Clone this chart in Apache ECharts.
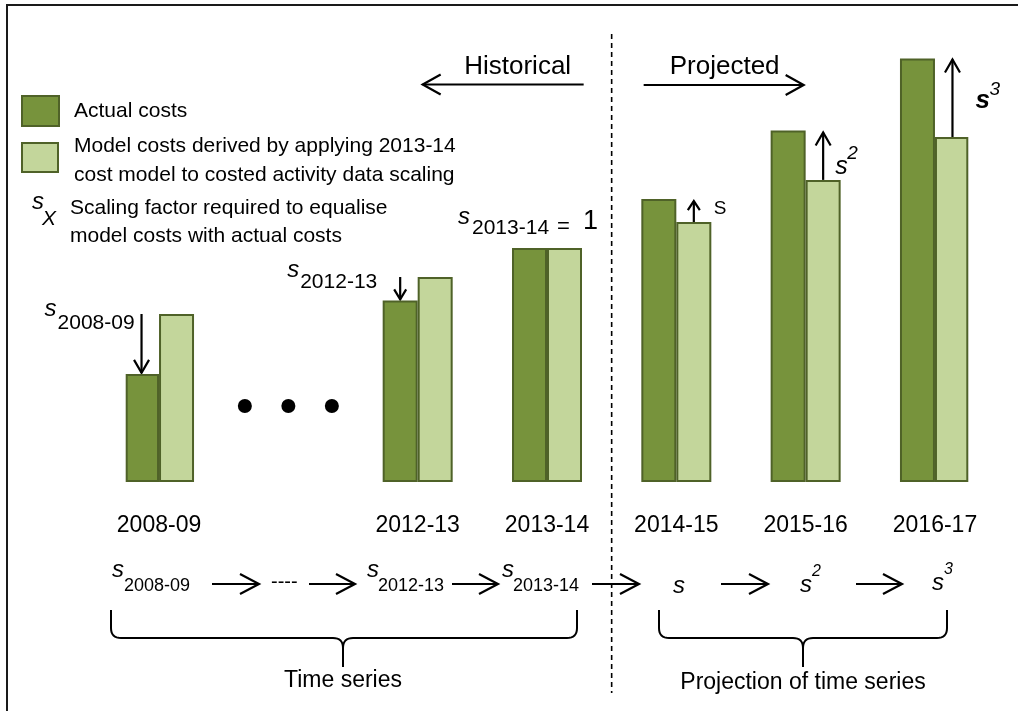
<!DOCTYPE html>
<html><head><meta charset="utf-8">
<script src="https://cdn.jsdelivr.net/npm/echarts@6/dist/echarts.min.js"></script>
<style>html,body{margin:0;padding:0;background:#fff}#c{width:1018px;height:711px}</style>
</head><body><div id="c"></div>
<script>
// ---- data ----
const periods = ['2008-09', '2012-13', '2013-14', '2014-15', '2015-16', '2016-17'];
const actualCosts = [46.2, 77.6, 100, 120.9, 150.2, 181];
const modelCosts = [71.8, 87.6, 100, 111.1, 129.1, 147.4];
const projectionFactors = ['S', 's', 's'];      // labels on the projection arrows
const projectionPowers = ['', '2', '3'];
const historyLabels = ['2008-09', '2012-13', '2013-14'];

// ---- layout (not data) ----
const nSlots = 13;
const slotOf = [0, 4, 6, 8, 10, 12];
const FONT = '"Liberation Sans", Arial, Helvetica, sans-serif';
const DARK = '#77933c', LIGHT = '#c3d69b', EDGE = '#4f6228';

const categories = Array(nSlots).fill('');
periods.forEach((p, i) => categories[slotOf[i]] = p);
const toSlots = arr => { const a = Array(nSlots).fill('-'); arr.forEach((v, i) => a[slotOf[i]] = v); return a; };

const chart = echarts.init(document.getElementById('c'), null, {renderer: 'canvas'});
chart.setOption({
  animation: false,
  backgroundColor: '#fff',
  grid: {left: 126.7, right: 50.7, top: 14, bottom: 229, containLabel: false},
  xAxis: {type: 'category', data: categories,
    axisLine: {show: false}, axisTick: {show: false}, splitLine: {show: false},
    axisLabel: {interval: 0, margin: 32, fontSize: 23, color: '#000', fontFamily: FONT}},
  yAxis: {type: 'value', min: 0, max: 200, show: false, splitLine: {show: false}},
  series: [
    {name: 'Actual costs', type: 'bar', data: toSlots(actualCosts), barWidth: 35, barGap: '0%',
     itemStyle: {color: DARK, borderColor: EDGE, borderWidth: 2}},
    {name: 'Model costs', type: 'bar', data: toSlots(modelCosts), barWidth: 35, barGap: '0%',
     itemStyle: {color: LIGHT, borderColor: EDGE, borderWidth: 2}}
  ]
});

const px = (slot, v) => chart.convertToPixel({xAxisIndex: 0, yAxisIndex: 0}, [slot, v]);
const G = [];
const poly = (points, w) => G.push({type: 'polyline', silent: true, shape: {points},
  style: {stroke: '#000', lineWidth: w || 2.2, fill: null}});
const line = (x1, y1, x2, y2, w, dash) => G.push({type: 'line', silent: true,
  shape: {x1, y1, x2, y2}, style: {stroke: '#000', lineWidth: w || 2.2, lineDash: dash || null}});
const arrow = (x1, y1, x2, y2, head, half, w) => {
  head = head || 12; half = half || 7; w = w || 2.2;
  line(x1, y1, x2, y2, w);
  const a = Math.atan2(y2 - y1, x2 - x1);
  const bx = x2 - head * Math.cos(a), by = y2 - head * Math.sin(a);
  const nx = -Math.sin(a) * half, ny = Math.cos(a) * half;
  poly([[bx + nx, by + ny], [x2, y2], [bx - nx, by - ny]], w);
};
const text = (str, x, y, size, o) => {
  o = o || {};
  G.push({type: 'text', x, y, silent: true, style: {text: str, fontSize: size, fontFamily: FONT, fill: '#000',
    align: o.align || 'left', verticalAlign: 'middle',
    fontStyle: o.italic ? 'italic' : 'normal', fontWeight: o.bold ? 'bold' : 'normal'}});
};

// frame
G.push({type: 'rect', silent: true, shape: {x: 7, y: 5, width: 1040, height: 740},
  style: {fill: null, stroke: '#1a1a1a', lineWidth: 2}});

// divider between historical / projected
const xd = px(7, 0)[0];
line(xd, 34, xd, 693, 1.6, [5, 4]);
text('Historical', xd - 94, 67, 26, {align: 'center'});
arrow(xd - 28, 84.5, xd - 189, 84.5, 18, 10);
text('Projected', xd + 113, 67, 26, {align: 'center'});
arrow(xd + 32, 85, xd + 192, 85, 18, 10);

// legend
G.push({type: 'rect', silent: true, shape: {x: 22, y: 96, width: 37, height: 30},
  style: {fill: DARK, stroke: EDGE, lineWidth: 2}});
text('Actual costs', 74, 111, 21);
G.push({type: 'rect', silent: true, shape: {x: 22, y: 143, width: 36, height: 29},
  style: {fill: LIGHT, stroke: EDGE, lineWidth: 2}});
text('Model costs derived by applying 2013-14', 74, 146, 21);
text('cost model to costed activity data scaling', 74, 175, 21);
text('s', 32, 202, 24, {italic: true});
text('X', 42, 219, 21, {italic: true});
text('Scaling factor required to equalise', 70, 208, 21);
text('model costs with actual costs', 70, 236, 21);

// ellipsis dots between 2008-09 and 2012-13
const c0 = px(slotOf[0], 0)[0], c1 = px(slotOf[1], 0)[0];
const mid = (c0 + c1) / 2;
[-43.5, 0, 43.5].forEach(d => G.push({type: 'circle', silent: true,
  shape: {cx: mid + d, cy: 406, r: 7}, style: {fill: '#000'}}));

// historical scaling arrows (model -> actual, on the actual-cost bar)
[0, 1].forEach(i => {
  const c = px(slotOf[i], 0)[0] - 17.5;
  const yM = px(slotOf[i], modelCosts[i])[1], yA = px(slotOf[i], actualCosts[i])[1];
  arrow(c, yM, c, yA - 1, i === 0 ? 13 : 10, i === 0 ? 7.5 : 6);
});
{
  const c = px(slotOf[0], 0)[0] - 17.5, y = px(slotOf[0], modelCosts[0])[1];
  text('s', c - 97, y - 5, 24, {italic: true});
  text(historyLabels[0], c - 84, y + 9, 21);
}
{
  const c = px(slotOf[1], 0)[0] - 17.5, y = px(slotOf[1], modelCosts[1])[1];
  text('s', c - 113, y - 7, 24, {italic: true});
  text(historyLabels[1], c - 100, y + 5, 21);
}
{
  const c = px(slotOf[2], 0)[0], y = px(slotOf[2], actualCosts[2])[1];
  text('s', c - 89, y - 31, 24, {italic: true});
  text(historyLabels[2], c - 75, y - 20, 21);
  text('=', c + 10, y - 21, 22);
  text('1', c + 36, y - 26, 27);
}

// projected scaling arrows (model -> actual, on the model-cost bar)
[3, 4, 5].forEach((i, k) => {
  const c = px(slotOf[i], 0)[0] + 17.5;
  const yM = px(slotOf[i], modelCosts[i])[1], yA = px(slotOf[i], actualCosts[i])[1];
  const m = (yM + yA) / 2;
  if (k === 0) {
    arrow(c, yM, c, yA + 2, 9, 6);
    text(projectionFactors[k], c + 20, m - 2, 19);
  } else if (k === 1) {
    arrow(c, yM, c, yA + 2, 13, 7.5);
    text(projectionFactors[k], c + 12, m + 12, 25, {italic: true});
    text(projectionPowers[k], c + 24, m - 2, 19, {italic: true});
  } else {
    arrow(c, yM, c, yA + 1, 13, 7.5);
    text(projectionFactors[k], c + 23, m + 3, 26, {italic: true, bold: true});
    text(projectionPowers[k], c + 37, m - 8, 19, {italic: true});
  }
});

// time-series chain
text('s', 112, 570, 24, {italic: true}); text(historyLabels[0], 124, 586, 18);
arrow(212, 584, 259, 584, 19, 10);
text('----', 271, 582, 20);
arrow(309, 584, 355, 584, 19, 10);
text('s', 367, 570, 24, {italic: true}); text(historyLabels[1], 378, 586, 18);
arrow(452, 584, 498, 584, 19, 10);
text('s', 502, 570, 24, {italic: true}); text(historyLabels[2], 513, 586, 18);
arrow(592, 584, 639, 584, 19, 10);
text('s', 673, 586, 24, {italic: true});
arrow(721, 584, 768, 584, 19, 10);
text('s', 800, 585, 24, {italic: true}); text('2', 812, 572, 16, {italic: true});
arrow(856, 584, 902, 584, 19, 10);
text('s', 932, 583, 24, {italic: true}); text('3', 944, 570, 16, {italic: true});

// braces (quadratic corners sampled into polylines)
const quad = (p0, p1, p2, n) => {
  const out = [];
  for (let k = 0; k <= n; k++) {
    const t = k / n, u = 1 - t;
    out.push([u * u * p0[0] + 2 * u * t * p1[0] + t * t * p2[0], u * u * p0[1] + 2 * u * t * p1[1] + t * t * p2[1]]);
  }
  return out;
};
const brace = (x1, x2, xm) => {
  const yT = 610, yH = 638, yB = 667, r = 10;
  const left = [[x1, yT], [x1, yH - r]].concat(quad([x1, yH - r], [x1, yH], [x1 + r, yH], 8))
    .concat([[xm - r, yH]]).concat(quad([xm - r, yH], [xm, yH], [xm, yH + r], 8)).concat([[xm, yB]]);
  const right = [[x2, yT], [x2, yH - r]].concat(quad([x2, yH - r], [x2, yH], [x2 - r, yH], 8))
    .concat([[xm + r, yH]]).concat(quad([xm + r, yH], [xm, yH], [xm, yH + r], 8));
  poly(left, 2); poly(right, 2);
};
brace(111, 577, 343);
brace(659, 947, 803);
text('Time series', 343, 681, 23, {align: 'center'});
text('Projection of time series', 803, 683, 23, {align: 'center'});

chart.setOption({graphic: {elements: G}});
</script></body></html>
